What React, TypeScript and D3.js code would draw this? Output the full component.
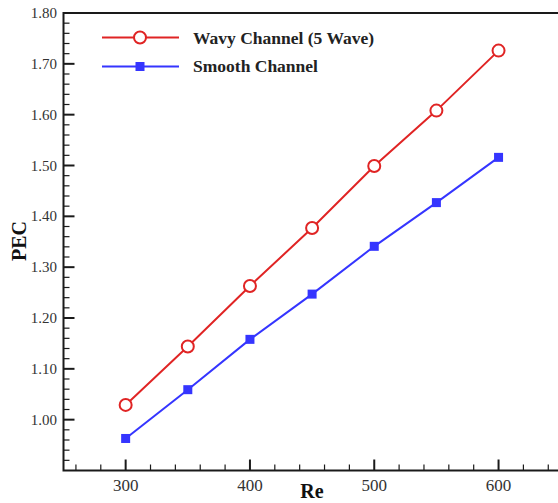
import React from "react";
import * as d3 from "d3";

const reValues = [300, 350, 400, 450, 500, 550, 600];
const wavyPEC = [1.029, 1.144, 1.263, 1.377, 1.499, 1.608, 1.726];
const smoothPEC = [0.963, 1.059, 1.158, 1.247, 1.341, 1.427, 1.516];
const xMajorTicks = [300, 400, 500, 600];
const yMajorTicks = [1.0, 1.1, 1.2, 1.3, 1.4, 1.5, 1.6, 1.7, 1.8];
const seriesNames = ["Wavy Channel (5 Wave)", "Smooth Channel"];

const W = 558;
const H = 503;
const RED = "#e02424";
const BLUE = "#3535ff";
const AXIS = "#1a1a1a";
const SERIF = "Liberation Serif, Times New Roman, Times, serif";

export default function App() {
  const x = d3.scaleLinear().domain([250, 700]).range([63.5, 63.5 + 450 * 1.243]);
  const y = d3.scaleLinear().domain([0.9, 1.8]).range([470.5, 13]);

  const xMinor = d3.range(260, 700, 20).filter((v) => !xMajorTicks.includes(v));
  const yMinor = d3
    .range(0, 45)
    .map((i) => +(0.92 + i * 0.02).toFixed(2))
    .filter((v) => v < 1.8 && Math.abs(Math.round(v * 10) - v * 10) > 0.01);

  const line = d3
    .line<number>()
    .x((_, i) => x(reValues[i]))
    .y((d) => y(d));

  const x0 = x(250);
  const yB = y(0.9);
  const yT = y(1.8);

  return (
    <svg
      width={W}
      height={H}
      style={{ position: "absolute", left: 0, top: 0, background: "#fff" }}
    >
      <rect x={0} y={0} width={W} height={H} fill="#fff" />
      {xMinor.map((v) => (
        <line key={"xm" + v} x1={x(v)} x2={x(v)} y1={yB} y2={yB - 6} stroke={AXIS} strokeWidth={1.2} />
      ))}
      {yMinor.map((v) => (
        <line key={"ym" + v} x1={x0} x2={x0 + 6} y1={y(v)} y2={y(v)} stroke={AXIS} strokeWidth={1.2} />
      ))}
      {xMajorTicks.map((v) => (
        <line key={"xM" + v} x1={x(v)} x2={x(v)} y1={yB} y2={yB - 11} stroke={AXIS} strokeWidth={2} />
      ))}
      {yMajorTicks.map((v) => (
        <line key={"yM" + v} x1={x0} x2={x0 + 11} y1={y(v)} y2={y(v)} stroke={AXIS} strokeWidth={2} />
      ))}
      <path
        d={`M${x(700)},${yT} L${x0},${yT} L${x0},${yB} L${x(700)},${yB}`}
        fill="none"
        stroke={AXIS}
        strokeWidth={2}
      />
      {xMajorTicks.map((v) => (
        <text
          key={"xl" + v}
          x={x(v)}
          y={491}
          textAnchor="middle"
          fontFamily={SERIF}
          fontSize={17}
          fill="#333"
        >
          {v}
        </text>
      ))}
      {yMajorTicks.map((v) => (
        <text
          key={"yl" + v}
          x={57}
          y={y(v) + 5}
          textAnchor="end"
          fontFamily={SERIF}
          fontSize={15}
          fill="#333"
        >
          {v.toFixed(2)}
        </text>
      ))}
      <text x={312} y={498} textAnchor="middle" fontFamily={SERIF} fontSize={20} fontWeight="bold" fill="#111">
        Re
      </text>
      <text
        transform={`translate(26,241) rotate(-90)`}
        textAnchor="middle"
        fontFamily={SERIF}
        fontSize={20}
        fontWeight="bold"
        fill="#111"
      >
        PEC
      </text>
      <path d={line(wavyPEC) || ""} fill="none" stroke={RED} strokeWidth={2} />
      <path d={line(smoothPEC) || ""} fill="none" stroke={BLUE} strokeWidth={2} />
      {wavyPEC.map((v, i) => (
        <circle key={"wc" + i} cx={x(reValues[i])} cy={y(v)} r={6} fill="#fff" stroke={RED} strokeWidth={2} />
      ))}
      {smoothPEC.map((v, i) => (
        <rect key={"sq" + i} x={x(reValues[i]) - 4.5} y={y(v) - 4.5} width={9} height={9} fill={BLUE} />
      ))}
      <line x1={102} x2={179} y1={37.5} y2={37.5} stroke={RED} strokeWidth={2} />
      <circle cx={140} cy={37.5} r={6} fill="#fff" stroke={RED} strokeWidth={2} />
      <text x={193} y={43.5} fontFamily={SERIF} fontSize={17.5} fontWeight="bold" fill="#222">
        {seriesNames[0]}
      </text>
      <line x1={102} x2={179} y1={66.5} y2={66.5} stroke={BLUE} strokeWidth={2} />
      <rect x={135.5} y={62} width={9} height={9} fill={BLUE} />
      <text x={193} y={72} fontFamily={SERIF} fontSize={17.5} fontWeight="bold" fill="#222">
        {seriesNames[1]}
      </text>
    </svg>
  );
}
